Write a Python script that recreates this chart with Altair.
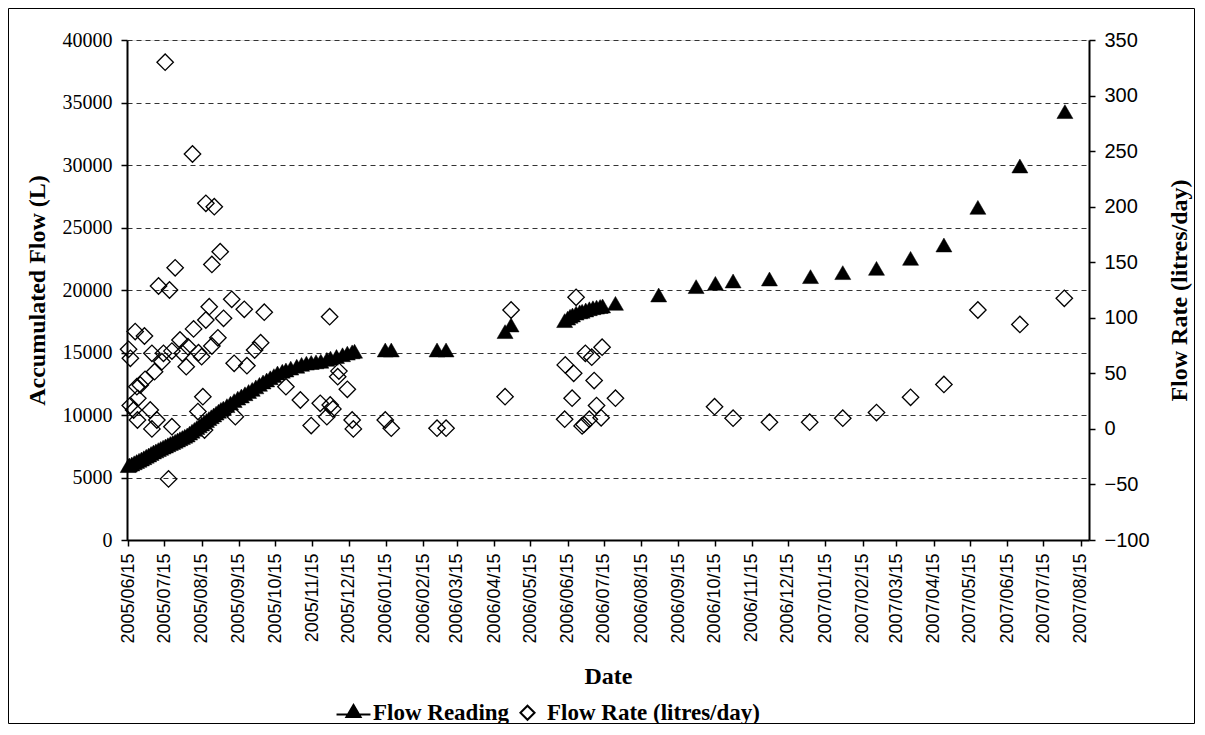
import altair as alt
import pandas as pd

BASE = pd.Timestamp("2005-06-15")

# Flow Reading (accumulated flow, L): day offset from 2005/06/15, value
reading_days = [0, 1, 3, 5, 7, 9, 11, 13, 15, 17, 19, 21, 23, 25, 27, 29, 31, 33, 35, 37,
                39, 41, 43, 45, 47, 49, 51, 53, 55, 57, 59, 61, 63, 65, 67, 69, 71, 73, 75, 77,
                79, 82, 85, 88, 91, 94, 97, 100, 103, 106, 109, 112, 115, 118, 121, 124, 128,
                131, 135, 140, 144, 148, 152, 156, 160, 165, 168, 173, 178, 182, 186, 188,
                213.5, 218.5, 256.5, 264, 313, 318,
                362.5, 365, 367, 369, 372, 375, 377, 380, 383, 386, 389, 392, 394, 404.7,
                440.6, 471.7, 487.7, 502.4, 532.6, 566.7, 593.5, 621.5, 649.8, 677.5,
                705.7, 740.6, 778]
reading_vals = [5950, 6000, 6080, 6180, 6280, 6380, 6480, 6580, 6700, 6800, 6920, 7040, 7130,
                7230, 7330, 7430, 7520, 7620, 7720, 7800, 7900, 8000, 8100, 8200, 8300, 8400,
                8550, 8700, 8850, 8990, 9130, 9280, 9420, 9560, 9710, 9860, 10000, 10150,
                10300, 10450, 10550, 10750, 10950, 11150, 11350, 11520, 11700, 11880, 12050,
                12250, 12450, 12640, 12800, 12980, 13150, 13360, 13500, 13600, 13750, 13900,
                14050, 14150, 14200, 14250, 14300, 14450, 14550, 14680, 14820, 14950, 15050,
                15100,
                15200, 15200, 15200, 15200, 16670, 17200,
                17550, 17750, 17900, 18000, 18150, 18250, 18300, 18400, 18500, 18580, 18630,
                18680, 18720, 18930,
                19600, 20270, 20530, 20720, 20880, 21070, 21390, 21730, 22530, 23600,
                26610, 29920, 34270]

# Flow Rate (litres/day): day offset from 2005/06/15, value
rate_days = [0.3, 1.8, 1.7, 4.5, 5.8, 7.2, 8, 7.7, 10, 13.5, 14, 18.3, 19.7, 19.7, 21.9, 23.8,
             25.2, 28, 29.3, 30.7, 33.5, 34.3, 36.3, 36.3, 39, 43, 45, 48.2, 49.6, 53.4, 54.3,
             57.9, 58.4, 61, 62, 63.4, 64.5, 64.5, 67.3, 69.5, 69.5, 71.5, 74.5, 76.4, 79.2,
             86, 88, 89, 96.4, 98.6, 105, 110, 113, 131, 143, 152, 159.5, 165, 167.3, 167.8,
             170, 174, 175, 182, 186, 187, 213.5, 218.5, 256.5, 264, 313, 318,
             362.5, 363, 368.7, 370, 372, 377, 378.5, 379.7, 383, 385, 387, 389, 392.8, 393.6,
             404.7, 487, 502.4, 532.6, 566, 593.5, 621.5, 649.8, 677.5, 705.7, 740.6, 777.5]
rate_vals = [71.6, 63.5, 21, 17, 87.6, 38, 27.5, 8, 39.5, 83.6, 44.6, 17, 68, 0, 51.5, 8,
             128.6, 60.5, 68, 330, -45, 125, 70, 2, 145, 80, 68, 56, 74, 247.4, 90,
             15.6, 68.6, 65, 29, -1, 203, 98, 110, 148, 74.6, 200, 82, 159.5, 99.5,
             116.6, 59, 11, 107.6, 56.9, 71, 77.6, 105, 38, 26, 3, 23, 11, 101, 21.5,
             18, 47, 52, 35.6, 8, 0, 8, 0.6, 0.6, 0.6, 29, 107,
             8.7, 57.6, 27.6, 50, 118.4, 2.7, 4, 68, 8.7, 64.5, 43.5, 21, 10, 73.5,
             27.6, 20, 9.6, 6, 6, 9.6, 14.7, 28.4, 40, 107, 94, 117.5]

# Tick labels
tick_months = [(2005, m) for m in range(6, 13)] + [(2006, m) for m in range(1, 13)] + \
              [(2007, m) for m in range(1, 9)]
left_ticks = [0, 5000, 10000, 15000, 20000, 25000, 30000, 35000, 40000]
right_ticks = [-100, -50, 0, 50, 100, 150, 200, 250, 300, 350]

S1 = "Flow Reading"
S2 = "Flow Rate (litres/day)"


def to_dates(days):
    return [(BASE + pd.to_timedelta(d, unit="D")).strftime("%Y-%m-%dT%H:%M:%S") for d in days]


df_read = pd.DataFrame({"date": to_dates(reading_days), "value": reading_vals, "series": S1})
df_rate = pd.DataFrame({"date": to_dates(rate_days), "value": rate_vals, "series": S2})

W, H = 962, 500
SERIF = "Liberation Serif"
SANS = "Liberation Sans"

x_enc = alt.X(
    "date:T",
    scale=alt.Scale(domain=[alt.DateTime(year=2005, month=6, date=14),
                            alt.DateTime(year=2007, month=8, date=22)]),
    axis=alt.Axis(
        title="Date",
        values=[alt.DateTime(year=y, month=m, date=15) for y, m in tick_months],
        format="%Y/%m/%d",
        labelAngle=270, labelAlign="right", labelBaseline="middle",
        labelFont=SANS, labelFontSize=18, labelPadding=7, labelOverlap=False,
        labelColor="black",
        tickSize=6, tickColor="black", tickWidth=1.5,
        domainColor="black", domainWidth=2, grid=False,
        titleFont=SERIF, titleFontSize=24, titleFontWeight="bold", titleColor="black",
        titleY=136, titleBaseline="middle",
    ),
)

# legend: triangle with a line through it for the readings, open diamond for the rate
READING_SYMBOL = "M-2.4,0.25H2.4M-1,0.6L0,-1.1L1,0.6Z"
shape_scale = alt.Scale(domain=[S1, S2], range=[READING_SYMBOL, "diamond"])
fill_scale = alt.Scale(domain=[S1, S2], range=["black", "transparent"])
stroke_scale = alt.Scale(domain=[S1, S2], range=["black", "black"])
legend = alt.Legend(
    title=None, orient="none", direction="horizontal",
    legendX=215, legendY=661, labelLimit=0,
    labelFont=SERIF, labelFontSize=23, labelFontWeight="bold", labelColor="black",
    symbolSize=200, symbolStrokeWidth=2,
    labelOffset=8, columnPadding=6,
)

readings = alt.Chart(df_read).mark_point(
    filled=True, shape="triangle-up", size=256, fill="black", stroke="black",
    strokeWidth=0.5, opacity=1
).encode(
    x=x_enc,
    y=alt.Y(
        "value:Q",
        scale=alt.Scale(domain=[0, 40000], nice=False),
        axis=alt.Axis(
            title="Accumulated Flow (L)", orient="left", values=left_ticks, format="d",
            labelFont=SERIF, labelFontSize=20, labelColor="black", labelPadding=9,
            tickSize=6, tickColor="black", tickWidth=1.5,
            domainColor="black", domainWidth=2,
            grid=True, gridColor="#333333", gridDash=[5, 4], gridWidth=1,
            titleFont=SERIF, titleFontSize=24, titleFontWeight="bold", titleColor="black",
            titleX=-90, titleY=250, titleAngle=270, titleBaseline="middle", titleAlign="center",
        ),
    ),
)

rates = alt.Chart(df_rate).mark_point(
    filled=True, size=270, strokeWidth=1.3, opacity=1
).encode(
    x=x_enc,
    y=alt.Y(
        "value:Q",
        scale=alt.Scale(domain=[-100, 350], nice=False),
        axis=alt.Axis(
            title="Flow Rate (litres/day)", orient="right", values=right_ticks,
            labelFont=SANS, labelFontSize=20, labelColor="black", labelPadding=9,
            tickSize=6, tickColor="black", tickWidth=1.5,
            domainColor="black", domainWidth=2, grid=False,
            titleFont=SERIF, titleFontSize=24, titleFontWeight="bold", titleColor="black",
            titleX=90, titleY=250, titleAngle=270, titleBaseline="middle", titleAlign="center",
        ),
    ),
    shape=alt.Shape("series:N", scale=shape_scale, legend=legend),
    fill=alt.Fill("series:N", scale=fill_scale, legend=legend),
    stroke=alt.Stroke("series:N", scale=stroke_scale, legend=legend),
)

frame = alt.Chart(pd.DataFrame({"k": [0]})).mark_rect(
    fill="transparent", stroke="black", strokeWidth=1
).encode(
    x=alt.value(-118.5), x2=alt.value(W + 105.5),
    y=alt.value(-31.5), y2=alt.value(H + 183.5),
)

chart = alt.layer(frame, readings, rates).resolve_scale(y="independent").properties(
    width=W, height=H,
    autosize=alt.AutoSizeParams(type="none"),
    padding={"left": 119, "top": 32, "right": 106, "bottom": 184},
).configure_view(stroke=None).configure(background="white")

chart.save("out.html", embed_options={"renderer": "svg", "actions": False})
